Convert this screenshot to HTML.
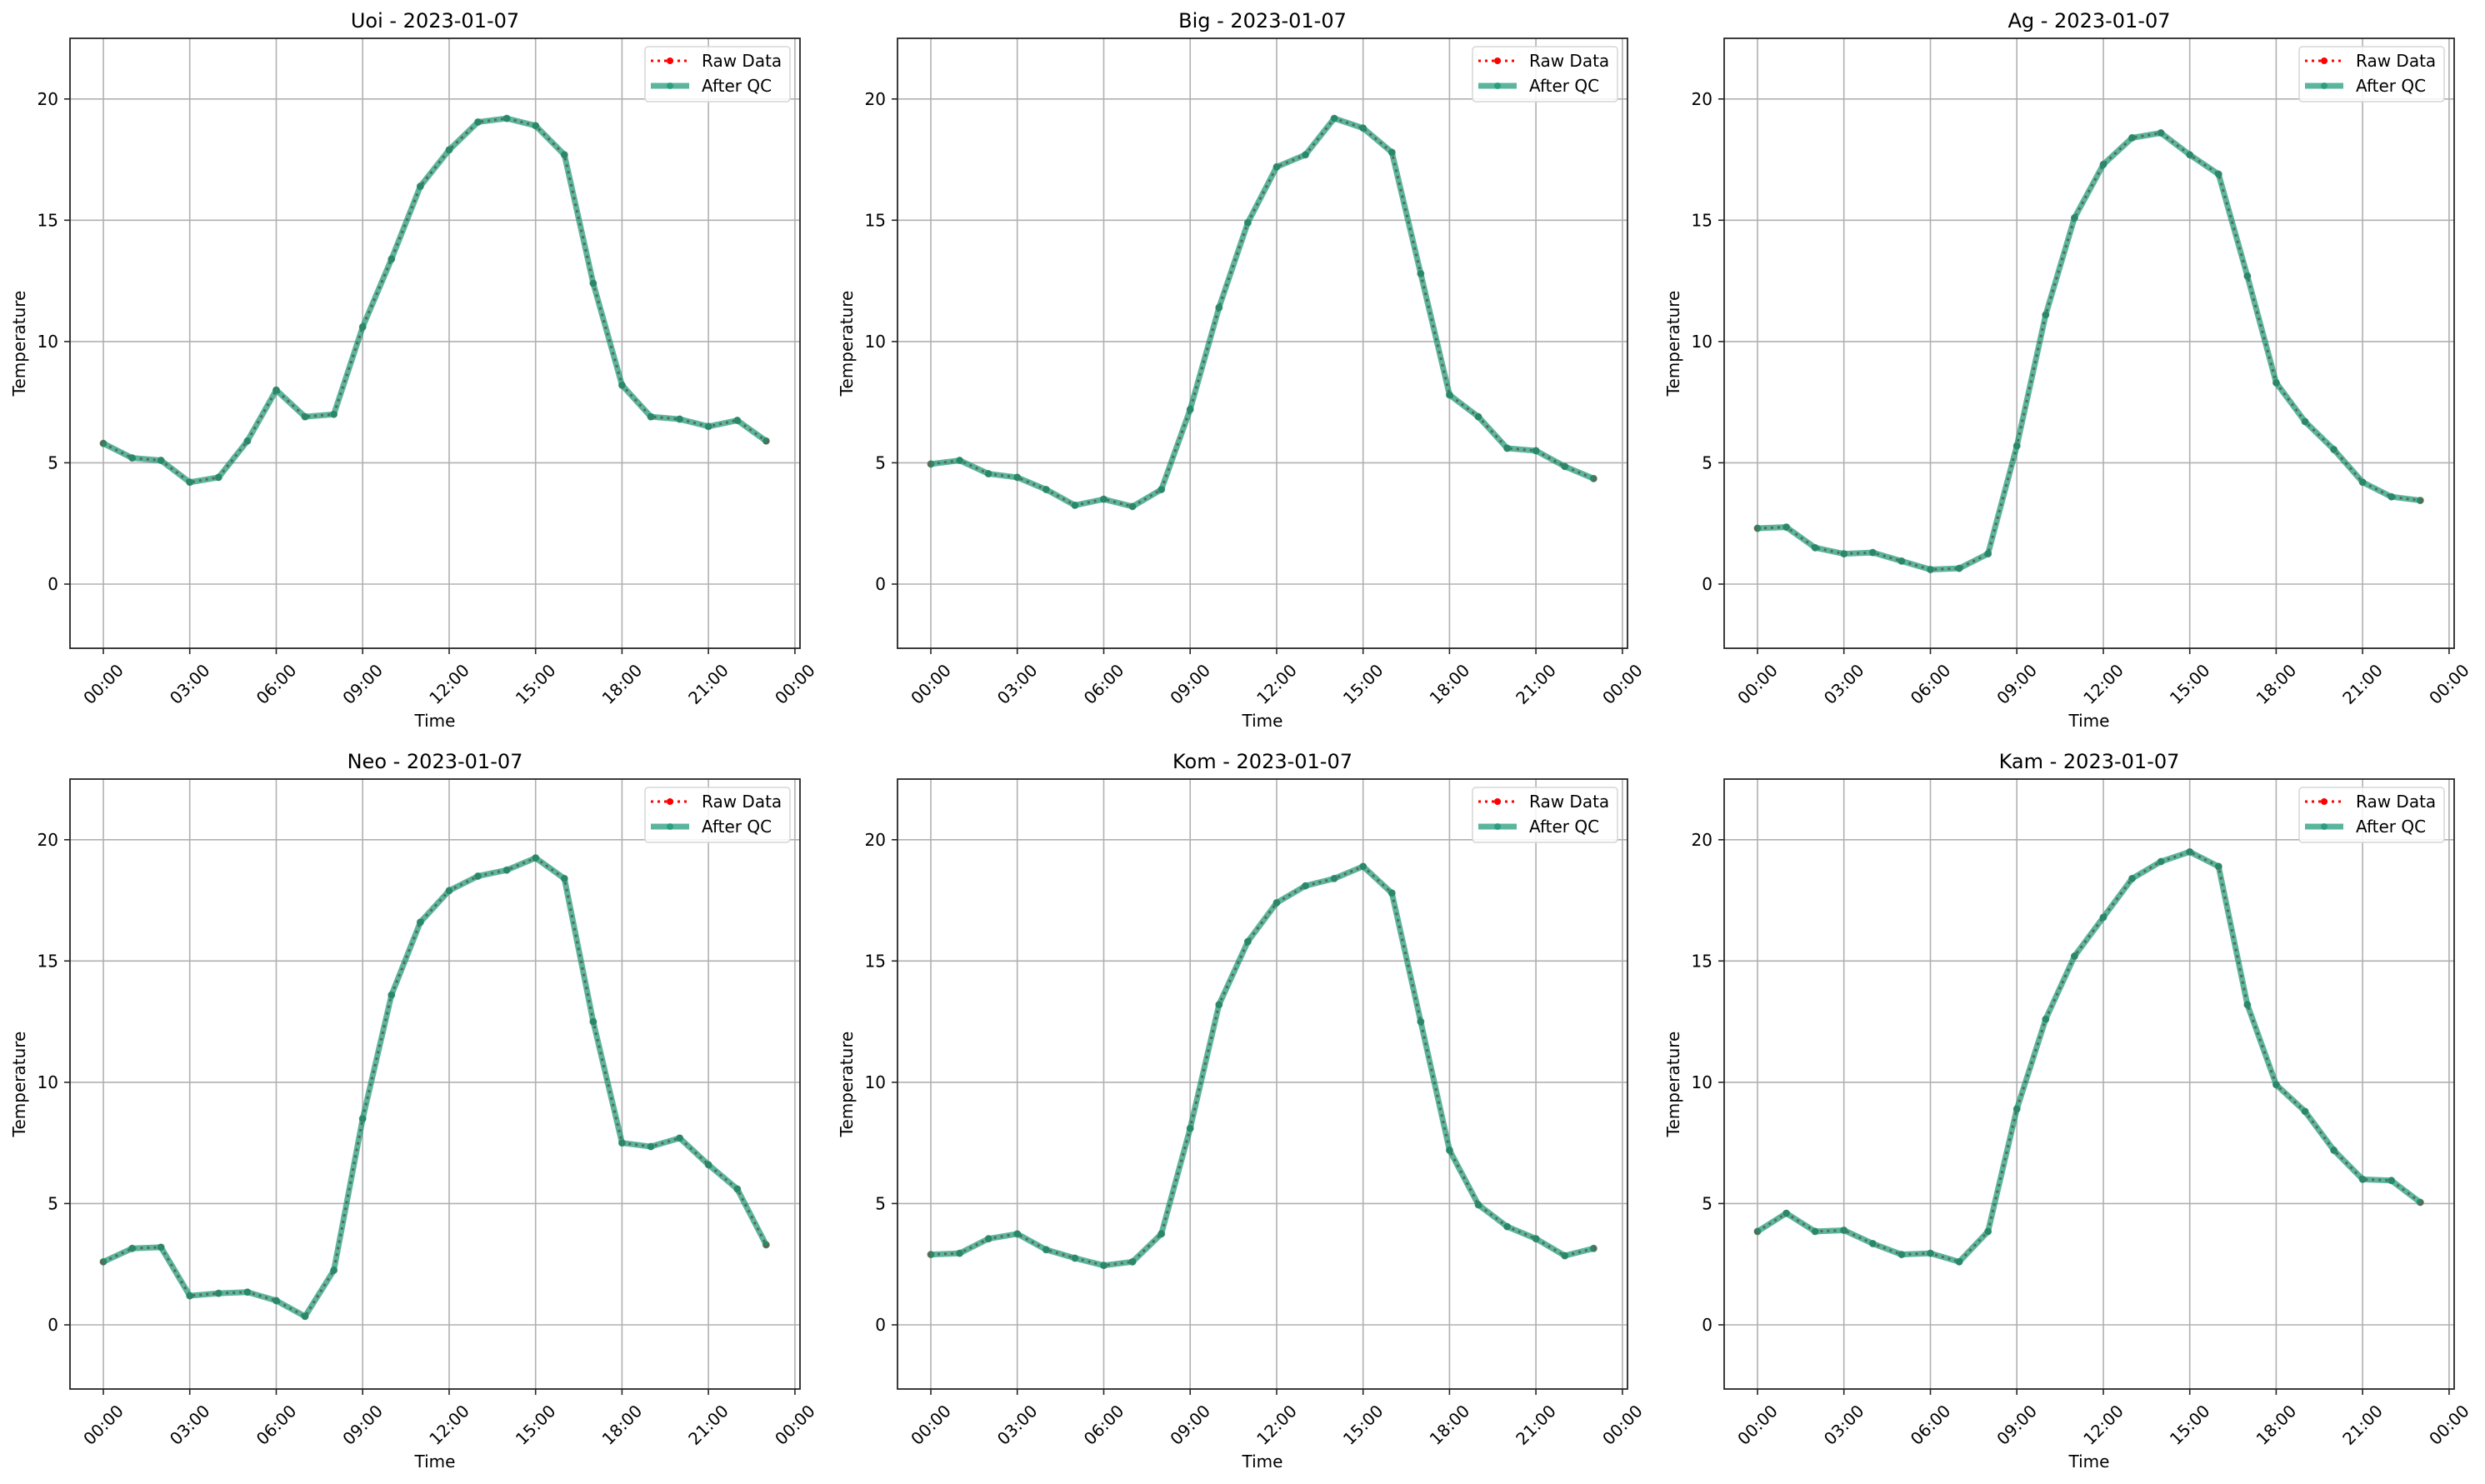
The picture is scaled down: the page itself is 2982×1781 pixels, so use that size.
<!DOCTYPE html>
<html><head><meta charset="utf-8"><style>
html,body{margin:0;padding:0;background:#fff}
svg{display:block}
text{font-family:"DejaVu Sans","Liberation Sans",sans-serif;fill:#000}
.t{font-size:20px}
.ti{font-size:24px}
.grid line{stroke:#b0b0b0;stroke-width:1.6}
.tk line{stroke:#262626;stroke-width:1.6}
.raw{fill:none;stroke:#ff0000;stroke-width:3;stroke-dasharray:3 5;vector-effect:non-scaling-stroke}
.rawm{fill:none;stroke:#ff0000;stroke-width:8;stroke-linecap:round;vector-effect:non-scaling-stroke}
.qc{fill:none;stroke:rgb(22,150,115);stroke-opacity:.7;stroke-width:7;stroke-linejoin:round;vector-effect:non-scaling-stroke}
.qcm{fill:none;stroke:rgb(22,150,115);stroke-opacity:.7;stroke-width:9;stroke-linecap:round;vector-effect:non-scaling-stroke}
</style></head><body>
<svg width="2982" height="1781" viewBox="0 0 2982 1781" xmlns="http://www.w3.org/2000/svg">

<!-- Uoi -->
<g transform="translate(84,46)">
<g class="grid"><line x1="40" y1="0" x2="40" y2="732"/><line x1="143.7" y1="0" x2="143.7" y2="732"/><line x1="247.5" y1="0" x2="247.5" y2="732"/><line x1="351.2" y1="0" x2="351.2" y2="732"/><line x1="455" y1="0" x2="455" y2="732"/><line x1="558.7" y1="0" x2="558.7" y2="732"/><line x1="662.4" y1="0" x2="662.4" y2="732"/><line x1="766.1" y1="0" x2="766.1" y2="732"/><line x1="869.9" y1="0" x2="869.9" y2="732"/>
<line x1="0" y1="655" x2="876" y2="655"/><line x1="0" y1="509.4" x2="876" y2="509.4"/><line x1="0" y1="363.9" x2="876" y2="363.9"/><line x1="0" y1="218.3" x2="876" y2="218.3"/><line x1="0" y1="72.8" x2="876" y2="72.8"/></g>
<g transform="translate(40,655) scale(34.58,-29.11)">
<polyline class="raw" points="0,5.8 1,5.2 2,5.1 3,4.2 4,4.4 5,5.9 6,8.0 7,6.9 8,7.0 9,10.6 10,13.4 11,16.4 12,17.9 13,19.05 14,19.2 15,18.9 16,17.7 17,12.4 18,8.2 19,6.9 20,6.8 21,6.5 22,6.75 23,5.9"/>
<path class="rawm" d="M0 5.8h0M1 5.2h0M2 5.1h0M3 4.2h0M4 4.4h0M5 5.9h0M6 8h0M7 6.9h0M8 7h0M9 10.6h0M10 13.4h0M11 16.4h0M12 17.9h0M13 19.05h0M14 19.2h0M15 18.9h0M16 17.7h0M17 12.4h0M18 8.2h0M19 6.9h0M20 6.8h0M21 6.5h0M22 6.75h0M23 5.9h0"/>
<polyline class="qc" points="0,5.8 1,5.2 2,5.1 3,4.2 4,4.4 5,5.9 6,8.0 7,6.9 8,7.0 9,10.6 10,13.4 11,16.4 12,17.9 13,19.05 14,19.2 15,18.9 16,17.7 17,12.4 18,8.2 19,6.9 20,6.8 21,6.5 22,6.75 23,5.9"/>
<path class="qcm" d="M0 5.8h0M1 5.2h0M2 5.1h0M3 4.2h0M4 4.4h0M5 5.9h0M6 8h0M7 6.9h0M8 7h0M9 10.6h0M10 13.4h0M11 16.4h0M12 17.9h0M13 19.05h0M14 19.2h0M15 18.9h0M16 17.7h0M17 12.4h0M18 8.2h0M19 6.9h0M20 6.8h0M21 6.5h0M22 6.75h0M23 5.9h0"/>
</g>
<rect x="0" y="0" width="876" height="732" fill="none" stroke="#262626" stroke-width="1.8"/>
<g class="tk"><line x1="-7" y1="655" x2="0" y2="655"/><line x1="-7" y1="509.4" x2="0" y2="509.4"/><line x1="-7" y1="363.9" x2="0" y2="363.9"/><line x1="-7" y1="218.3" x2="0" y2="218.3"/><line x1="-7" y1="72.8" x2="0" y2="72.8"/>
<line x1="40" y1="732" x2="40" y2="739"/><line x1="143.7" y1="732" x2="143.7" y2="739"/><line x1="247.5" y1="732" x2="247.5" y2="739"/><line x1="351.2" y1="732" x2="351.2" y2="739"/><line x1="455" y1="732" x2="455" y2="739"/><line x1="558.7" y1="732" x2="558.7" y2="739"/><line x1="662.4" y1="732" x2="662.4" y2="739"/><line x1="766.1" y1="732" x2="766.1" y2="739"/><line x1="869.9" y1="732" x2="869.9" y2="739"/></g>
<g class="t" text-anchor="end"><text x="-14" y="662">0</text><text x="-14" y="516.4">5</text><text x="-14" y="370.9">10</text><text x="-14" y="225.3">15</text><text x="-14" y="79.8">20</text></g>
<g class="t" text-anchor="middle"><text transform="translate(40,775) rotate(-45)" dy="7">00:00</text><text transform="translate(143.7,775) rotate(-45)" dy="7">03:00</text><text transform="translate(247.5,775) rotate(-45)" dy="7">06:00</text><text transform="translate(351.2,775) rotate(-45)" dy="7">09:00</text><text transform="translate(455,775) rotate(-45)" dy="7">12:00</text><text transform="translate(558.7,775) rotate(-45)" dy="7">15:00</text><text transform="translate(662.4,775) rotate(-45)" dy="7">18:00</text><text transform="translate(766.1,775) rotate(-45)" dy="7">21:00</text><text transform="translate(869.9,775) rotate(-45)" dy="7">00:00</text>
<text x="438" y="826">Time</text><text transform="translate(-61,366) rotate(-90)" dy="7">Temperature</text></g>
<text class="ti" x="438" y="-13" text-anchor="middle">Uoi - 2023-01-07</text>
<rect x="690" y="10" width="174" height="66" rx="4" fill="#fff" fill-opacity=".85" stroke="#d6d6d6" stroke-width="1.5"/>
<line x1="697" y1="27" x2="743" y2="27" stroke="#f00" stroke-width="3" stroke-dasharray="3 5"/><circle cx="720" cy="27" r="4" fill="#f00"/>
<line x1="697" y1="57" x2="743" y2="57" stroke="rgb(22,150,115)" stroke-opacity=".7" stroke-width="7"/><circle cx="720" cy="57" r="4" fill="rgb(22,150,115)" fill-opacity=".7"/>
<text class="t" x="758" y="34">Raw Data</text><text class="t" x="758" y="64">After QC</text>
</g>

<!-- Big -->
<g transform="translate(1077,46)">
<g class="grid"><line x1="40" y1="0" x2="40" y2="732"/><line x1="143.7" y1="0" x2="143.7" y2="732"/><line x1="247.5" y1="0" x2="247.5" y2="732"/><line x1="351.2" y1="0" x2="351.2" y2="732"/><line x1="455" y1="0" x2="455" y2="732"/><line x1="558.7" y1="0" x2="558.7" y2="732"/><line x1="662.4" y1="0" x2="662.4" y2="732"/><line x1="766.1" y1="0" x2="766.1" y2="732"/><line x1="869.9" y1="0" x2="869.9" y2="732"/>
<line x1="0" y1="655" x2="876" y2="655"/><line x1="0" y1="509.4" x2="876" y2="509.4"/><line x1="0" y1="363.9" x2="876" y2="363.9"/><line x1="0" y1="218.3" x2="876" y2="218.3"/><line x1="0" y1="72.8" x2="876" y2="72.8"/></g>
<g transform="translate(40,655) scale(34.58,-29.11)">
<polyline class="raw" points="0,4.95 1,5.1 2,4.55 3,4.4 4,3.9 5,3.25 6,3.5 7,3.2 8,3.9 9,7.2 10,11.4 11,14.9 12,17.2 13,17.7 14,19.2 15,18.8 16,17.8 17,12.8 18,7.8 19,6.9 20,5.6 21,5.5 22,4.85 23,4.35"/>
<path class="rawm" d="M0 4.95h0M1 5.1h0M2 4.55h0M3 4.4h0M4 3.9h0M5 3.25h0M6 3.5h0M7 3.2h0M8 3.9h0M9 7.2h0M10 11.4h0M11 14.9h0M12 17.2h0M13 17.7h0M14 19.2h0M15 18.8h0M16 17.8h0M17 12.8h0M18 7.8h0M19 6.9h0M20 5.6h0M21 5.5h0M22 4.85h0M23 4.35h0"/>
<polyline class="qc" points="0,4.95 1,5.1 2,4.55 3,4.4 4,3.9 5,3.25 6,3.5 7,3.2 8,3.9 9,7.2 10,11.4 11,14.9 12,17.2 13,17.7 14,19.2 15,18.8 16,17.8 17,12.8 18,7.8 19,6.9 20,5.6 21,5.5 22,4.85 23,4.35"/>
<path class="qcm" d="M0 4.95h0M1 5.1h0M2 4.55h0M3 4.4h0M4 3.9h0M5 3.25h0M6 3.5h0M7 3.2h0M8 3.9h0M9 7.2h0M10 11.4h0M11 14.9h0M12 17.2h0M13 17.7h0M14 19.2h0M15 18.8h0M16 17.8h0M17 12.8h0M18 7.8h0M19 6.9h0M20 5.6h0M21 5.5h0M22 4.85h0M23 4.35h0"/>
</g>
<rect x="0" y="0" width="876" height="732" fill="none" stroke="#262626" stroke-width="1.8"/>
<g class="tk"><line x1="-7" y1="655" x2="0" y2="655"/><line x1="-7" y1="509.4" x2="0" y2="509.4"/><line x1="-7" y1="363.9" x2="0" y2="363.9"/><line x1="-7" y1="218.3" x2="0" y2="218.3"/><line x1="-7" y1="72.8" x2="0" y2="72.8"/>
<line x1="40" y1="732" x2="40" y2="739"/><line x1="143.7" y1="732" x2="143.7" y2="739"/><line x1="247.5" y1="732" x2="247.5" y2="739"/><line x1="351.2" y1="732" x2="351.2" y2="739"/><line x1="455" y1="732" x2="455" y2="739"/><line x1="558.7" y1="732" x2="558.7" y2="739"/><line x1="662.4" y1="732" x2="662.4" y2="739"/><line x1="766.1" y1="732" x2="766.1" y2="739"/><line x1="869.9" y1="732" x2="869.9" y2="739"/></g>
<g class="t" text-anchor="end"><text x="-14" y="662">0</text><text x="-14" y="516.4">5</text><text x="-14" y="370.9">10</text><text x="-14" y="225.3">15</text><text x="-14" y="79.8">20</text></g>
<g class="t" text-anchor="middle"><text transform="translate(40,775) rotate(-45)" dy="7">00:00</text><text transform="translate(143.7,775) rotate(-45)" dy="7">03:00</text><text transform="translate(247.5,775) rotate(-45)" dy="7">06:00</text><text transform="translate(351.2,775) rotate(-45)" dy="7">09:00</text><text transform="translate(455,775) rotate(-45)" dy="7">12:00</text><text transform="translate(558.7,775) rotate(-45)" dy="7">15:00</text><text transform="translate(662.4,775) rotate(-45)" dy="7">18:00</text><text transform="translate(766.1,775) rotate(-45)" dy="7">21:00</text><text transform="translate(869.9,775) rotate(-45)" dy="7">00:00</text>
<text x="438" y="826">Time</text><text transform="translate(-61,366) rotate(-90)" dy="7">Temperature</text></g>
<text class="ti" x="438" y="-13" text-anchor="middle">Big - 2023-01-07</text>
<rect x="690" y="10" width="174" height="66" rx="4" fill="#fff" fill-opacity=".85" stroke="#d6d6d6" stroke-width="1.5"/>
<line x1="697" y1="27" x2="743" y2="27" stroke="#f00" stroke-width="3" stroke-dasharray="3 5"/><circle cx="720" cy="27" r="4" fill="#f00"/>
<line x1="697" y1="57" x2="743" y2="57" stroke="rgb(22,150,115)" stroke-opacity=".7" stroke-width="7"/><circle cx="720" cy="57" r="4" fill="rgb(22,150,115)" fill-opacity=".7"/>
<text class="t" x="758" y="34">Raw Data</text><text class="t" x="758" y="64">After QC</text>
</g>

<!-- Ag -->
<g transform="translate(2069,46)">
<g class="grid"><line x1="40" y1="0" x2="40" y2="732"/><line x1="143.7" y1="0" x2="143.7" y2="732"/><line x1="247.5" y1="0" x2="247.5" y2="732"/><line x1="351.2" y1="0" x2="351.2" y2="732"/><line x1="455" y1="0" x2="455" y2="732"/><line x1="558.7" y1="0" x2="558.7" y2="732"/><line x1="662.4" y1="0" x2="662.4" y2="732"/><line x1="766.1" y1="0" x2="766.1" y2="732"/><line x1="869.9" y1="0" x2="869.9" y2="732"/>
<line x1="0" y1="655" x2="876" y2="655"/><line x1="0" y1="509.4" x2="876" y2="509.4"/><line x1="0" y1="363.9" x2="876" y2="363.9"/><line x1="0" y1="218.3" x2="876" y2="218.3"/><line x1="0" y1="72.8" x2="876" y2="72.8"/></g>
<g transform="translate(40,655) scale(34.58,-29.11)">
<polyline class="raw" points="0,2.3 1,2.35 2,1.5 3,1.25 4,1.3 5,0.95 6,0.6 7,0.65 8,1.25 9,5.7 10,11.1 11,15.1 12,17.3 13,18.4 14,18.6 15,17.7 16,16.9 17,12.7 18,8.3 19,6.7 20,5.55 21,4.2 22,3.6 23,3.45"/>
<path class="rawm" d="M0 2.3h0M1 2.35h0M2 1.5h0M3 1.25h0M4 1.3h0M5 .95h0M6 .6h0M7 .65h0M8 1.25h0M9 5.7h0M10 11.1h0M11 15.1h0M12 17.3h0M13 18.4h0M14 18.6h0M15 17.7h0M16 16.9h0M17 12.7h0M18 8.3h0M19 6.7h0M20 5.55h0M21 4.2h0M22 3.6h0M23 3.45h0"/>
<polyline class="qc" points="0,2.3 1,2.35 2,1.5 3,1.25 4,1.3 5,0.95 6,0.6 7,0.65 8,1.25 9,5.7 10,11.1 11,15.1 12,17.3 13,18.4 14,18.6 15,17.7 16,16.9 17,12.7 18,8.3 19,6.7 20,5.55 21,4.2 22,3.6 23,3.45"/>
<path class="qcm" d="M0 2.3h0M1 2.35h0M2 1.5h0M3 1.25h0M4 1.3h0M5 .95h0M6 .6h0M7 .65h0M8 1.25h0M9 5.7h0M10 11.1h0M11 15.1h0M12 17.3h0M13 18.4h0M14 18.6h0M15 17.7h0M16 16.9h0M17 12.7h0M18 8.3h0M19 6.7h0M20 5.55h0M21 4.2h0M22 3.6h0M23 3.45h0"/>
</g>
<rect x="0" y="0" width="876" height="732" fill="none" stroke="#262626" stroke-width="1.8"/>
<g class="tk"><line x1="-7" y1="655" x2="0" y2="655"/><line x1="-7" y1="509.4" x2="0" y2="509.4"/><line x1="-7" y1="363.9" x2="0" y2="363.9"/><line x1="-7" y1="218.3" x2="0" y2="218.3"/><line x1="-7" y1="72.8" x2="0" y2="72.8"/>
<line x1="40" y1="732" x2="40" y2="739"/><line x1="143.7" y1="732" x2="143.7" y2="739"/><line x1="247.5" y1="732" x2="247.5" y2="739"/><line x1="351.2" y1="732" x2="351.2" y2="739"/><line x1="455" y1="732" x2="455" y2="739"/><line x1="558.7" y1="732" x2="558.7" y2="739"/><line x1="662.4" y1="732" x2="662.4" y2="739"/><line x1="766.1" y1="732" x2="766.1" y2="739"/><line x1="869.9" y1="732" x2="869.9" y2="739"/></g>
<g class="t" text-anchor="end"><text x="-14" y="662">0</text><text x="-14" y="516.4">5</text><text x="-14" y="370.9">10</text><text x="-14" y="225.3">15</text><text x="-14" y="79.8">20</text></g>
<g class="t" text-anchor="middle"><text transform="translate(40,775) rotate(-45)" dy="7">00:00</text><text transform="translate(143.7,775) rotate(-45)" dy="7">03:00</text><text transform="translate(247.5,775) rotate(-45)" dy="7">06:00</text><text transform="translate(351.2,775) rotate(-45)" dy="7">09:00</text><text transform="translate(455,775) rotate(-45)" dy="7">12:00</text><text transform="translate(558.7,775) rotate(-45)" dy="7">15:00</text><text transform="translate(662.4,775) rotate(-45)" dy="7">18:00</text><text transform="translate(766.1,775) rotate(-45)" dy="7">21:00</text><text transform="translate(869.9,775) rotate(-45)" dy="7">00:00</text>
<text x="438" y="826">Time</text><text transform="translate(-61,366) rotate(-90)" dy="7">Temperature</text></g>
<text class="ti" x="438" y="-13" text-anchor="middle">Ag - 2023-01-07</text>
<rect x="690" y="10" width="174" height="66" rx="4" fill="#fff" fill-opacity=".85" stroke="#d6d6d6" stroke-width="1.5"/>
<line x1="697" y1="27" x2="743" y2="27" stroke="#f00" stroke-width="3" stroke-dasharray="3 5"/><circle cx="720" cy="27" r="4" fill="#f00"/>
<line x1="697" y1="57" x2="743" y2="57" stroke="rgb(22,150,115)" stroke-opacity=".7" stroke-width="7"/><circle cx="720" cy="57" r="4" fill="rgb(22,150,115)" fill-opacity=".7"/>
<text class="t" x="758" y="34">Raw Data</text><text class="t" x="758" y="64">After QC</text>
</g>

<!-- Neo -->
<g transform="translate(84,935)">
<g class="grid"><line x1="40" y1="0" x2="40" y2="732"/><line x1="143.7" y1="0" x2="143.7" y2="732"/><line x1="247.5" y1="0" x2="247.5" y2="732"/><line x1="351.2" y1="0" x2="351.2" y2="732"/><line x1="455" y1="0" x2="455" y2="732"/><line x1="558.7" y1="0" x2="558.7" y2="732"/><line x1="662.4" y1="0" x2="662.4" y2="732"/><line x1="766.1" y1="0" x2="766.1" y2="732"/><line x1="869.9" y1="0" x2="869.9" y2="732"/>
<line x1="0" y1="655" x2="876" y2="655"/><line x1="0" y1="509.4" x2="876" y2="509.4"/><line x1="0" y1="363.9" x2="876" y2="363.9"/><line x1="0" y1="218.3" x2="876" y2="218.3"/><line x1="0" y1="72.8" x2="876" y2="72.8"/></g>
<g transform="translate(40,655) scale(34.58,-29.11)">
<polyline class="raw" points="0,2.6 1,3.15 2,3.2 3,1.2 4,1.3 5,1.35 6,1.0 7,0.35 8,2.25 9,8.5 10,13.6 11,16.6 12,17.9 13,18.5 14,18.75 15,19.25 16,18.4 17,12.5 18,7.5 19,7.35 20,7.7 21,6.6 22,5.6 23,3.3"/>
<path class="rawm" d="M0 2.6h0M1 3.15h0M2 3.2h0M3 1.2h0M4 1.3h0M5 1.35h0M6 1h0M7 .35h0M8 2.25h0M9 8.5h0M10 13.6h0M11 16.6h0M12 17.9h0M13 18.5h0M14 18.75h0M15 19.25h0M16 18.4h0M17 12.5h0M18 7.5h0M19 7.35h0M20 7.7h0M21 6.6h0M22 5.6h0M23 3.3h0"/>
<polyline class="qc" points="0,2.6 1,3.15 2,3.2 3,1.2 4,1.3 5,1.35 6,1.0 7,0.35 8,2.25 9,8.5 10,13.6 11,16.6 12,17.9 13,18.5 14,18.75 15,19.25 16,18.4 17,12.5 18,7.5 19,7.35 20,7.7 21,6.6 22,5.6 23,3.3"/>
<path class="qcm" d="M0 2.6h0M1 3.15h0M2 3.2h0M3 1.2h0M4 1.3h0M5 1.35h0M6 1h0M7 .35h0M8 2.25h0M9 8.5h0M10 13.6h0M11 16.6h0M12 17.9h0M13 18.5h0M14 18.75h0M15 19.25h0M16 18.4h0M17 12.5h0M18 7.5h0M19 7.35h0M20 7.7h0M21 6.6h0M22 5.6h0M23 3.3h0"/>
</g>
<rect x="0" y="0" width="876" height="732" fill="none" stroke="#262626" stroke-width="1.8"/>
<g class="tk"><line x1="-7" y1="655" x2="0" y2="655"/><line x1="-7" y1="509.4" x2="0" y2="509.4"/><line x1="-7" y1="363.9" x2="0" y2="363.9"/><line x1="-7" y1="218.3" x2="0" y2="218.3"/><line x1="-7" y1="72.8" x2="0" y2="72.8"/>
<line x1="40" y1="732" x2="40" y2="739"/><line x1="143.7" y1="732" x2="143.7" y2="739"/><line x1="247.5" y1="732" x2="247.5" y2="739"/><line x1="351.2" y1="732" x2="351.2" y2="739"/><line x1="455" y1="732" x2="455" y2="739"/><line x1="558.7" y1="732" x2="558.7" y2="739"/><line x1="662.4" y1="732" x2="662.4" y2="739"/><line x1="766.1" y1="732" x2="766.1" y2="739"/><line x1="869.9" y1="732" x2="869.9" y2="739"/></g>
<g class="t" text-anchor="end"><text x="-14" y="662">0</text><text x="-14" y="516.4">5</text><text x="-14" y="370.9">10</text><text x="-14" y="225.3">15</text><text x="-14" y="79.8">20</text></g>
<g class="t" text-anchor="middle"><text transform="translate(40,775) rotate(-45)" dy="7">00:00</text><text transform="translate(143.7,775) rotate(-45)" dy="7">03:00</text><text transform="translate(247.5,775) rotate(-45)" dy="7">06:00</text><text transform="translate(351.2,775) rotate(-45)" dy="7">09:00</text><text transform="translate(455,775) rotate(-45)" dy="7">12:00</text><text transform="translate(558.7,775) rotate(-45)" dy="7">15:00</text><text transform="translate(662.4,775) rotate(-45)" dy="7">18:00</text><text transform="translate(766.1,775) rotate(-45)" dy="7">21:00</text><text transform="translate(869.9,775) rotate(-45)" dy="7">00:00</text>
<text x="438" y="826">Time</text><text transform="translate(-61,366) rotate(-90)" dy="7">Temperature</text></g>
<text class="ti" x="438" y="-13" text-anchor="middle">Neo - 2023-01-07</text>
<rect x="690" y="10" width="174" height="66" rx="4" fill="#fff" fill-opacity=".85" stroke="#d6d6d6" stroke-width="1.5"/>
<line x1="697" y1="27" x2="743" y2="27" stroke="#f00" stroke-width="3" stroke-dasharray="3 5"/><circle cx="720" cy="27" r="4" fill="#f00"/>
<line x1="697" y1="57" x2="743" y2="57" stroke="rgb(22,150,115)" stroke-opacity=".7" stroke-width="7"/><circle cx="720" cy="57" r="4" fill="rgb(22,150,115)" fill-opacity=".7"/>
<text class="t" x="758" y="34">Raw Data</text><text class="t" x="758" y="64">After QC</text>
</g>

<!-- Kom -->
<g transform="translate(1077,935)">
<g class="grid"><line x1="40" y1="0" x2="40" y2="732"/><line x1="143.7" y1="0" x2="143.7" y2="732"/><line x1="247.5" y1="0" x2="247.5" y2="732"/><line x1="351.2" y1="0" x2="351.2" y2="732"/><line x1="455" y1="0" x2="455" y2="732"/><line x1="558.7" y1="0" x2="558.7" y2="732"/><line x1="662.4" y1="0" x2="662.4" y2="732"/><line x1="766.1" y1="0" x2="766.1" y2="732"/><line x1="869.9" y1="0" x2="869.9" y2="732"/>
<line x1="0" y1="655" x2="876" y2="655"/><line x1="0" y1="509.4" x2="876" y2="509.4"/><line x1="0" y1="363.9" x2="876" y2="363.9"/><line x1="0" y1="218.3" x2="876" y2="218.3"/><line x1="0" y1="72.8" x2="876" y2="72.8"/></g>
<g transform="translate(40,655) scale(34.58,-29.11)">
<polyline class="raw" points="0,2.9 1,2.95 2,3.55 3,3.75 4,3.1 5,2.75 6,2.45 7,2.6 8,3.75 9,8.1 10,13.2 11,15.8 12,17.4 13,18.1 14,18.4 15,18.9 16,17.8 17,12.5 18,7.2 19,4.95 20,4.05 21,3.55 22,2.85 23,3.15"/>
<path class="rawm" d="M0 2.9h0M1 2.95h0M2 3.55h0M3 3.75h0M4 3.1h0M5 2.75h0M6 2.45h0M7 2.6h0M8 3.75h0M9 8.1h0M10 13.2h0M11 15.8h0M12 17.4h0M13 18.1h0M14 18.4h0M15 18.9h0M16 17.8h0M17 12.5h0M18 7.2h0M19 4.95h0M20 4.05h0M21 3.55h0M22 2.85h0M23 3.15h0"/>
<polyline class="qc" points="0,2.9 1,2.95 2,3.55 3,3.75 4,3.1 5,2.75 6,2.45 7,2.6 8,3.75 9,8.1 10,13.2 11,15.8 12,17.4 13,18.1 14,18.4 15,18.9 16,17.8 17,12.5 18,7.2 19,4.95 20,4.05 21,3.55 22,2.85 23,3.15"/>
<path class="qcm" d="M0 2.9h0M1 2.95h0M2 3.55h0M3 3.75h0M4 3.1h0M5 2.75h0M6 2.45h0M7 2.6h0M8 3.75h0M9 8.1h0M10 13.2h0M11 15.8h0M12 17.4h0M13 18.1h0M14 18.4h0M15 18.9h0M16 17.8h0M17 12.5h0M18 7.2h0M19 4.95h0M20 4.05h0M21 3.55h0M22 2.85h0M23 3.15h0"/>
</g>
<rect x="0" y="0" width="876" height="732" fill="none" stroke="#262626" stroke-width="1.8"/>
<g class="tk"><line x1="-7" y1="655" x2="0" y2="655"/><line x1="-7" y1="509.4" x2="0" y2="509.4"/><line x1="-7" y1="363.9" x2="0" y2="363.9"/><line x1="-7" y1="218.3" x2="0" y2="218.3"/><line x1="-7" y1="72.8" x2="0" y2="72.8"/>
<line x1="40" y1="732" x2="40" y2="739"/><line x1="143.7" y1="732" x2="143.7" y2="739"/><line x1="247.5" y1="732" x2="247.5" y2="739"/><line x1="351.2" y1="732" x2="351.2" y2="739"/><line x1="455" y1="732" x2="455" y2="739"/><line x1="558.7" y1="732" x2="558.7" y2="739"/><line x1="662.4" y1="732" x2="662.4" y2="739"/><line x1="766.1" y1="732" x2="766.1" y2="739"/><line x1="869.9" y1="732" x2="869.9" y2="739"/></g>
<g class="t" text-anchor="end"><text x="-14" y="662">0</text><text x="-14" y="516.4">5</text><text x="-14" y="370.9">10</text><text x="-14" y="225.3">15</text><text x="-14" y="79.8">20</text></g>
<g class="t" text-anchor="middle"><text transform="translate(40,775) rotate(-45)" dy="7">00:00</text><text transform="translate(143.7,775) rotate(-45)" dy="7">03:00</text><text transform="translate(247.5,775) rotate(-45)" dy="7">06:00</text><text transform="translate(351.2,775) rotate(-45)" dy="7">09:00</text><text transform="translate(455,775) rotate(-45)" dy="7">12:00</text><text transform="translate(558.7,775) rotate(-45)" dy="7">15:00</text><text transform="translate(662.4,775) rotate(-45)" dy="7">18:00</text><text transform="translate(766.1,775) rotate(-45)" dy="7">21:00</text><text transform="translate(869.9,775) rotate(-45)" dy="7">00:00</text>
<text x="438" y="826">Time</text><text transform="translate(-61,366) rotate(-90)" dy="7">Temperature</text></g>
<text class="ti" x="438" y="-13" text-anchor="middle">Kom - 2023-01-07</text>
<rect x="690" y="10" width="174" height="66" rx="4" fill="#fff" fill-opacity=".85" stroke="#d6d6d6" stroke-width="1.5"/>
<line x1="697" y1="27" x2="743" y2="27" stroke="#f00" stroke-width="3" stroke-dasharray="3 5"/><circle cx="720" cy="27" r="4" fill="#f00"/>
<line x1="697" y1="57" x2="743" y2="57" stroke="rgb(22,150,115)" stroke-opacity=".7" stroke-width="7"/><circle cx="720" cy="57" r="4" fill="rgb(22,150,115)" fill-opacity=".7"/>
<text class="t" x="758" y="34">Raw Data</text><text class="t" x="758" y="64">After QC</text>
</g>

<!-- Kam -->
<g transform="translate(2069,935)">
<g class="grid"><line x1="40" y1="0" x2="40" y2="732"/><line x1="143.7" y1="0" x2="143.7" y2="732"/><line x1="247.5" y1="0" x2="247.5" y2="732"/><line x1="351.2" y1="0" x2="351.2" y2="732"/><line x1="455" y1="0" x2="455" y2="732"/><line x1="558.7" y1="0" x2="558.7" y2="732"/><line x1="662.4" y1="0" x2="662.4" y2="732"/><line x1="766.1" y1="0" x2="766.1" y2="732"/><line x1="869.9" y1="0" x2="869.9" y2="732"/>
<line x1="0" y1="655" x2="876" y2="655"/><line x1="0" y1="509.4" x2="876" y2="509.4"/><line x1="0" y1="363.9" x2="876" y2="363.9"/><line x1="0" y1="218.3" x2="876" y2="218.3"/><line x1="0" y1="72.8" x2="876" y2="72.8"/></g>
<g transform="translate(40,655) scale(34.58,-29.11)">
<polyline class="raw" points="0,3.85 1,4.6 2,3.85 3,3.9 4,3.35 5,2.9 6,2.95 7,2.6 8,3.85 9,8.9 10,12.6 11,15.2 12,16.8 13,18.4 14,19.1 15,19.5 16,18.9 17,13.2 18,9.9 19,8.8 20,7.2 21,6.0 22,5.95 23,5.05"/>
<path class="rawm" d="M0 3.85h0M1 4.6h0M2 3.85h0M3 3.9h0M4 3.35h0M5 2.9h0M6 2.95h0M7 2.6h0M8 3.85h0M9 8.9h0M10 12.6h0M11 15.2h0M12 16.8h0M13 18.4h0M14 19.1h0M15 19.5h0M16 18.9h0M17 13.2h0M18 9.9h0M19 8.8h0M20 7.2h0M21 6h0M22 5.95h0M23 5.05h0"/>
<polyline class="qc" points="0,3.85 1,4.6 2,3.85 3,3.9 4,3.35 5,2.9 6,2.95 7,2.6 8,3.85 9,8.9 10,12.6 11,15.2 12,16.8 13,18.4 14,19.1 15,19.5 16,18.9 17,13.2 18,9.9 19,8.8 20,7.2 21,6.0 22,5.95 23,5.05"/>
<path class="qcm" d="M0 3.85h0M1 4.6h0M2 3.85h0M3 3.9h0M4 3.35h0M5 2.9h0M6 2.95h0M7 2.6h0M8 3.85h0M9 8.9h0M10 12.6h0M11 15.2h0M12 16.8h0M13 18.4h0M14 19.1h0M15 19.5h0M16 18.9h0M17 13.2h0M18 9.9h0M19 8.8h0M20 7.2h0M21 6h0M22 5.95h0M23 5.05h0"/>
</g>
<rect x="0" y="0" width="876" height="732" fill="none" stroke="#262626" stroke-width="1.8"/>
<g class="tk"><line x1="-7" y1="655" x2="0" y2="655"/><line x1="-7" y1="509.4" x2="0" y2="509.4"/><line x1="-7" y1="363.9" x2="0" y2="363.9"/><line x1="-7" y1="218.3" x2="0" y2="218.3"/><line x1="-7" y1="72.8" x2="0" y2="72.8"/>
<line x1="40" y1="732" x2="40" y2="739"/><line x1="143.7" y1="732" x2="143.7" y2="739"/><line x1="247.5" y1="732" x2="247.5" y2="739"/><line x1="351.2" y1="732" x2="351.2" y2="739"/><line x1="455" y1="732" x2="455" y2="739"/><line x1="558.7" y1="732" x2="558.7" y2="739"/><line x1="662.4" y1="732" x2="662.4" y2="739"/><line x1="766.1" y1="732" x2="766.1" y2="739"/><line x1="869.9" y1="732" x2="869.9" y2="739"/></g>
<g class="t" text-anchor="end"><text x="-14" y="662">0</text><text x="-14" y="516.4">5</text><text x="-14" y="370.9">10</text><text x="-14" y="225.3">15</text><text x="-14" y="79.8">20</text></g>
<g class="t" text-anchor="middle"><text transform="translate(40,775) rotate(-45)" dy="7">00:00</text><text transform="translate(143.7,775) rotate(-45)" dy="7">03:00</text><text transform="translate(247.5,775) rotate(-45)" dy="7">06:00</text><text transform="translate(351.2,775) rotate(-45)" dy="7">09:00</text><text transform="translate(455,775) rotate(-45)" dy="7">12:00</text><text transform="translate(558.7,775) rotate(-45)" dy="7">15:00</text><text transform="translate(662.4,775) rotate(-45)" dy="7">18:00</text><text transform="translate(766.1,775) rotate(-45)" dy="7">21:00</text><text transform="translate(869.9,775) rotate(-45)" dy="7">00:00</text>
<text x="438" y="826">Time</text><text transform="translate(-61,366) rotate(-90)" dy="7">Temperature</text></g>
<text class="ti" x="438" y="-13" text-anchor="middle">Kam - 2023-01-07</text>
<rect x="690" y="10" width="174" height="66" rx="4" fill="#fff" fill-opacity=".85" stroke="#d6d6d6" stroke-width="1.5"/>
<line x1="697" y1="27" x2="743" y2="27" stroke="#f00" stroke-width="3" stroke-dasharray="3 5"/><circle cx="720" cy="27" r="4" fill="#f00"/>
<line x1="697" y1="57" x2="743" y2="57" stroke="rgb(22,150,115)" stroke-opacity=".7" stroke-width="7"/><circle cx="720" cy="57" r="4" fill="rgb(22,150,115)" fill-opacity=".7"/>
<text class="t" x="758" y="34">Raw Data</text><text class="t" x="758" y="64">After QC</text>
</g>
</svg>
</body></html>
